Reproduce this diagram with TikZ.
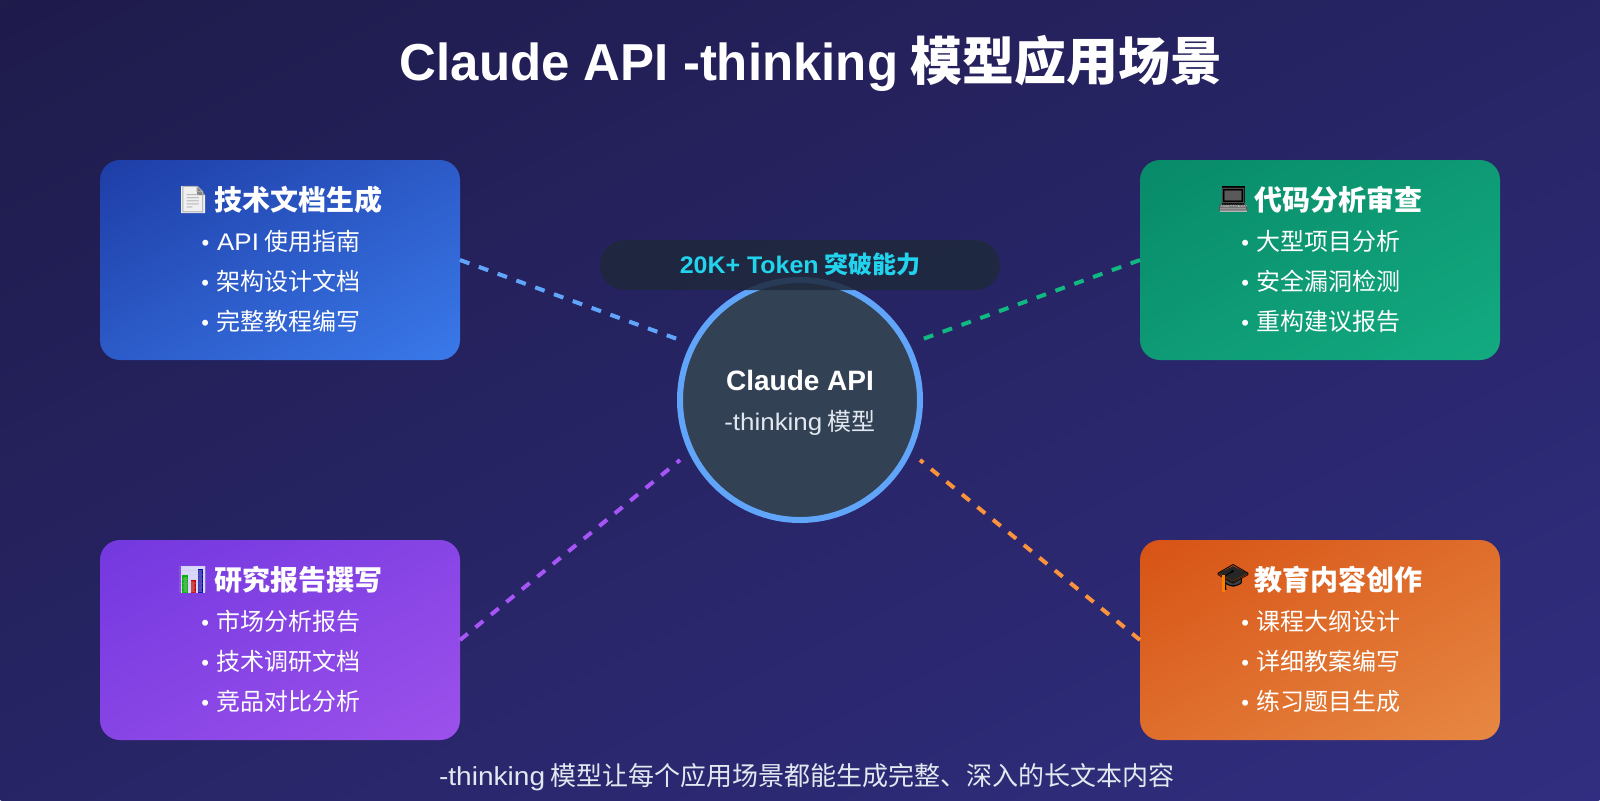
\documentclass[tikz,border=0pt]{standalone}
\usepackage{fontspec}
\setmainfont{Noto Sans CJK SC}
\newfontfamily\lat{Liberation Sans}
\newfontfamily\latR[FakeStretch=1.08]{Liberation Sans}
\newfontfamily\latP[FakeStretch=1.04]{Liberation Sans}
\newfontfamily\latT[FakeStretch=0.98]{Liberation Sans}
\newfontfamily\emo{Noto Emoji}
\newcommand{\fs}[1]{\fontsize{#1}{#1}\selectfont}
\definecolor{bgA}{HTML}{1E1B4B}\definecolor{bgB}{HTML}{312E81}
\definecolor{blA}{HTML}{1E3DA6}\definecolor{blB}{HTML}{3A79EA}
\definecolor{grA}{HTML}{088A68}\definecolor{grB}{HTML}{13AB81}
\definecolor{puA}{HTML}{7338DF}\definecolor{puB}{HTML}{9C51EB}
\definecolor{orA}{HTML}{D75315}\definecolor{orB}{HTML}{E78843}
\definecolor{lnBlue}{HTML}{60A5FA}\definecolor{lnGreen}{HTML}{10B981}
\definecolor{lnPurple}{HTML}{A855F7}\definecolor{lnOrange}{HTML}{FB923C}
\definecolor{hubFill}{HTML}{334155}\definecolor{pillFill}{HTML}{1E293B}
\definecolor{cyanText}{HTML}{22D3EE}\definecolor{softText}{HTML}{E2E8F0}
\newcommand{\mkshade}[3]{\pgfdeclarehorizontalshading{#1}{100bp}{color(0bp)=(#2); color(100bp)=(#3)}}
\mkshade{bgS}{bgA}{bgB}
\mkshade{blS}{blA}{blB}
\mkshade{grS}{grA}{grB}
\mkshade{puS}{puA}{puB}
\mkshade{orS}{orA}{orB}
% diagonal gradient whose iso-lines run along the rectangle's other diagonal
\newcommand{\gradrect}[6]{%
  \begin{scope}
    \clip[rounded corners=#6] (#2,#3) rectangle ++(#4,#5);
    \pgfmathsetmacro\ga{(#4*0.5)/100.375}%
    \pgfmathsetmacro\gb{(#5*0.5)/100.375}%
    \pgfmathsetmacro\gx{(#2+#4/2)*0.5}%
    \pgfmathsetmacro\gy{-(#3+#5/2)*0.5}%
    \pgftransformcm{\ga}{-\gb}{\ga}{\gb}{\pgfqpoint{\gx pt}{\gy pt}}%
    \pgflowlevelsynccm
    \pgfuseshading{#1}%
  \end{scope}}
\tikzset{
  card/.style={rounded corners=10pt,minimum width=180pt,minimum height=100pt,inner sep=0pt,outer sep=0pt},
  link/.style={draw=#1,line width=2pt,dash pattern=on 5pt off 5pt},
  head/.style={anchor=base,text=white,inner sep=0pt,font=\fs{14}\bfseries},
  item/.style={anchor=base,text=white,inner sep=0pt,font=\fs{12}},
  icon/.style={anchor=center,inner sep=0pt,font=\fs{13}\emo},
}
\newcommand{\bul}{{\fs{11}\lat •}\hspace{3.9pt}}
\begin{document}
\begin{tikzpicture}[x=0.5pt,y=-0.5pt]
\useasboundingbox (0,0) rectangle (1600,800);
\fill[bgA!50!bgB] (0,0) rectangle (1600,800);
\gradrect{bgS}{0}{0}{1600}{800}{0pt}
\node[anchor=base,text=white,inner sep=0pt,font=\fs{26}\bfseries] (title) at (811,80) {{\latT Claude API -thinking} 模型应用场景};
\coordinate (endA) at (680,340);\coordinate (endB) at (920,340);
\coordinate (endC) at (680,460);\coordinate (endD) at (920,460);
\gradrect{blS}{100}{160}{360}{200}{10pt}
\gradrect{grS}{1140}{160}{360}{200}{10pt}
\gradrect{puS}{100}{540}{360}{200}{10pt}
\gradrect{orS}{1140}{540}{360}{200}{10pt}
\node[card] (boxA) at (280,260) {};
\node[card] (boxB) at (1320,260) {};
\node[card] (boxC) at (280,640) {};
\node[card] (boxD) at (1320,640) {};
\draw[link=lnBlue] (boxA.east) -- (endA);
\draw[link=lnGreen] (boxB.west) -- (endB);
\draw[link=lnPurple] (boxC.east) -- (endC);
\draw[link=lnOrange] (boxD.west) -- (endD);
\node[circle,draw=lnBlue,fill=hubFill,line width=3pt,minimum size=120pt,inner sep=0pt] (hub) at (800,400) {};
\node[fill=pillFill,fill opacity=0.85,rounded corners=12.5pt,minimum width=200pt,minimum height=25pt,inner sep=0pt] (pill) at (800,265) {};
\node[anchor=base,text=cyanText,inner sep=0pt,font=\fs{12}\bfseries] (pillT) at (800,273) {{\latP 20K+ Token} 突破能力};
\node[anchor=base,text=white,inner sep=0pt,font=\fs{14}\bfseries] (hubA) at (800,390) {\lat Claude API};
\node[anchor=base,text=softText,inner sep=0pt,font=\fs{12}] (hubB) at (800,430) {{\latR -thinking} 模型};
% card A
\fill[white!88!gray] (181,186) -- (197,186) -- (205,195) -- (205,213) -- (181,213) -- cycle;
\fill[gray] (197,186) -- (205,195) -- (197,195) -- cycle;
\node[icon,text=gray!60] (icA) at (193,200) {📄};
\node[head] (hA) at (298,210) {技术文档生成};
\node[item] (iA1) at (281,250) {\bul{\latR API} 使用指南};
\node[item] (iA2) at (281,290) {\bul 架构设计文档};
\node[item] (iA3) at (281,330) {\bul 完整教程编写};
% card B
\fill[black] (1222,186) rectangle (1245,205);
\fill[gray!60] (1220,205) rectangle (1247,212);
\node[icon,text=black!65] (icB) at (1233,200) {💻};
\node[head] (hB) at (1338,210) {代码分析审查};
\node[item] (iB1) at (1321,250) {\bul 大型项目分析};
\node[item] (iB2) at (1321,290) {\bul 安全漏洞检测};
\node[item] (iB3) at (1321,330) {\bul 重构建议报告};
% card C
\fill[white!85!blue] (181,566) rectangle (205,593);
\fill[green!70!black] (182,575) rectangle (188,593);
\fill[red!80!black] (191,580) rectangle (196,593);
\fill[blue!70!black] (198,569) rectangle (203,593);
\node[icon,text=gray!50,opacity=.4] (icC) at (193,580) {📊};
\node[head] (hC) at (298,590) {研究报告撰写};
\node[item] (iC1) at (281,630) {\bul 市场分析报告};
\node[item] (iC2) at (281,670) {\bul 技术调研文档};
\node[item] (iC3) at (281,710) {\bul 竞品对比分析};
% card D
\fill[black!85] (1233,566) -- (1247,573) -- (1233,581) -- (1219,573) -- cycle;
\fill[black!75] (1225,578) -- (1233,582) -- (1241,578) -- (1241,584) -- (1233,587) -- (1225,584) -- cycle;
\node[icon,text=black] (icD) at (1233,578) {🎓};
\fill[orange] (1222,575) rectangle (1225,592);
\node[head] (hD) at (1338,590) {教育内容创作};
\node[item] (iD1) at (1321,630) {\bul 课程大纲设计};
\node[item] (iD2) at (1321,670) {\bul 详细教案编写};
\node[item] (iD3) at (1321,710) {\bul 练习题目生成};
\node[anchor=base,text=softText,inner sep=0pt,font=\fs{13}] (foot) at (807,785) {{\latR -thinking} 模型让每个应用场景都能生成完整、深入的长文本内容};
\end{tikzpicture}
\end{document}
